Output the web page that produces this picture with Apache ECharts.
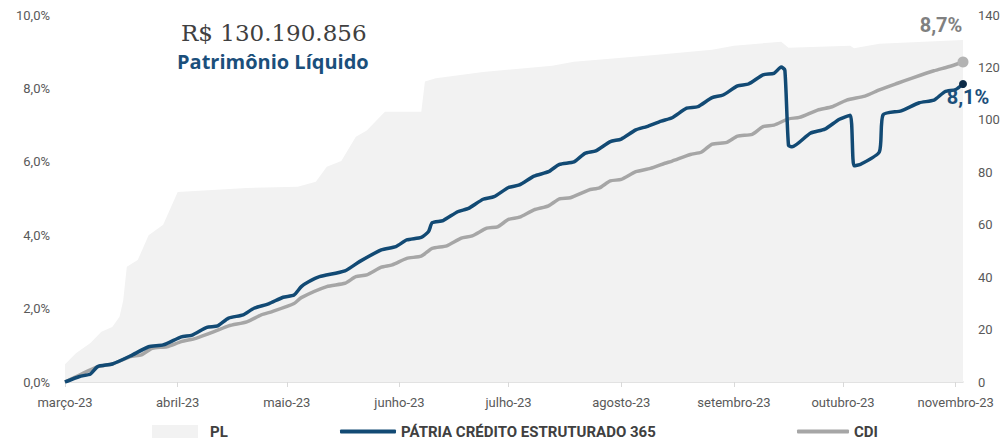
<!DOCTYPE html>
<html>
<head>
<meta charset="utf-8">
<script src="https://cdn.jsdelivr.net/npm/echarts@6/dist/echarts.min.js"></script>
<style>
  html, body { margin: 0; padding: 0; background: #fff; }
  #chart { width: 1003px; height: 441px; }
</style>
</head>
<body>
<div id="chart"></div>
<script>
// PL (R$ milhões, eixo direito)
const plDates = ['2023-03-01','2023-03-04','2023-03-08','2023-03-11','2023-03-14','2023-03-16','2023-03-17','2023-03-18','2023-03-21','2023-03-24','2023-03-28','2023-04-01','2023-04-20','2023-05-04','2023-05-09','2023-05-12','2023-05-16','2023-05-20','2023-05-23','2023-05-28','2023-06-07','2023-06-08','2023-06-11','2023-06-24','2023-07-13','2023-07-19','2023-08-11','2023-08-26','2023-09-01','2023-09-14','2023-09-16','2023-10-03','2023-10-04','2023-10-11','2023-11-03'];
const plValues = [6.8, 11, 14.9, 19.2, 21, 24.9, 31, 44, 46.5, 56, 60, 72.5, 74, 74.5, 76.4, 82.1, 84.3, 93.6, 95.9, 103.1, 103.1, 114.6, 115.9, 118.3, 120.6, 122.2, 124.8, 126.7, 128.3, 129.8, 127.5, 128.3, 127.3, 129, 130.5];

// PÁTRIA CRÉDITO ESTRUTURADO 365 (% acumulado)
const fundDates = ['2023-03-01','2023-03-05','2023-03-08','2023-03-10','2023-03-14','2023-03-19','2023-03-24','2023-03-28','2023-04-02','2023-04-05','2023-04-09','2023-04-12','2023-04-15','2023-04-19','2023-04-22','2023-04-26','2023-04-30','2023-05-03','2023-05-05','2023-05-07','2023-05-10','2023-05-17','2023-05-21','2023-05-27','2023-05-31','2023-06-03','2023-06-07','2023-06-09','2023-06-10','2023-06-13','2023-06-17','2023-06-20','2023-06-24','2023-06-27','2023-07-01','2023-07-04','2023-07-08','2023-07-12','2023-07-15','2023-07-19','2023-07-22','2023-07-25','2023-07-29','2023-08-01','2023-08-05','2023-08-08','2023-08-12','2023-08-15','2023-08-19','2023-08-22','2023-08-26','2023-08-29','2023-09-02','2023-09-05','2023-09-09','2023-09-12','2023-09-14','2023-09-15','2023-09-16','2023-09-17','2023-09-22','2023-09-26','2023-09-30','2023-10-03','2023-10-04','2023-10-06','2023-10-11','2023-10-12','2023-10-17','2023-10-22','2023-10-26','2023-10-29','2023-11-01','2023-11-03'];
const fundValues = [0, 0.15, 0.22, 0.42, 0.49, 0.71, 0.96, 1.01, 1.23, 1.28, 1.49, 1.53, 1.74, 1.83, 2.01, 2.13, 2.31, 2.37, 2.60, 2.73, 2.87, 3.03, 3.28, 3.60, 3.69, 3.87, 3.94, 4.10, 4.34, 4.40, 4.64, 4.73, 4.98, 5.05, 5.30, 5.37, 5.61, 5.73, 5.93, 6.00, 6.23, 6.30, 6.55, 6.62, 6.87, 6.96, 7.11, 7.20, 7.46, 7.50, 7.75, 7.82, 8.07, 8.12, 8.37, 8.41, 8.58, 8.50, 6.45, 6.41, 6.78, 6.89, 7.16, 7.27, 5.89, 5.94, 6.27, 7.28, 7.39, 7.61, 7.68, 7.91, 7.97, 8.12];

// CDI (% acumulado)
const cdiDates = ['2023-03-01','2023-03-05','2023-03-10','2023-03-14','2023-03-19','2023-03-22','2023-03-25','2023-03-29','2023-04-02','2023-04-06','2023-04-11','2023-04-15','2023-04-20','2023-04-24','2023-04-27','2023-05-03','2023-05-05','2023-05-12','2023-05-17','2023-05-20','2023-05-23','2023-05-27','2023-05-30','2023-06-03','2023-06-07','2023-06-10','2023-06-14','2023-06-18','2023-06-21','2023-06-25','2023-06-28','2023-07-01','2023-07-04','2023-07-08','2023-07-12','2023-07-15','2023-07-18','2023-07-23','2023-07-26','2023-07-29','2023-08-01','2023-08-05','2023-08-09','2023-08-13','2023-08-15','2023-08-20','2023-08-23','2023-08-26','2023-08-30','2023-09-02','2023-09-06','2023-09-09','2023-09-12','2023-09-16','2023-09-19','2023-09-24','2023-09-28','2023-10-02','2023-10-07','2023-10-11','2023-10-16','2023-10-20','2023-10-26','2023-10-30','2023-11-03'];
const cdiValues = [0, 0.19, 0.42, 0.49, 0.69, 0.74, 0.92, 0.96, 1.10, 1.19, 1.37, 1.53, 1.64, 1.83, 1.92, 2.14, 2.30, 2.60, 2.69, 2.87, 2.92, 3.13, 3.19, 3.37, 3.43, 3.64, 3.71, 3.92, 3.98, 4.19, 4.23, 4.43, 4.49, 4.69, 4.80, 4.99, 5.02, 5.23, 5.29, 5.48, 5.52, 5.73, 5.82, 5.96, 6.02, 6.20, 6.26, 6.48, 6.53, 6.70, 6.75, 6.96, 7.00, 7.17, 7.21, 7.41, 7.50, 7.68, 7.79, 7.96, 8.14, 8.28, 8.48, 8.59, 8.72];

const meses = ['janeiro','fevereiro','março','abril','maio','junho','julho','agosto','setembro','outubro','novembro','dezembro'];
const narrow = "'Liberation Sans Narrow', 'Roboto', 'Noto Sans', sans-serif";

function pct(v, d) {
    return v.toFixed(d).replace('.', ',') + '%';
}

// último ponto com marcador e rótulo
function buildLine(dates, values, dot, label) {
    return dates.map(function (d, i) {
        if (i < dates.length - 1) return [d, values[i]];
        return {
            value: [d, values[i]],
            symbol: 'circle',
            symbolSize: dot.size,
            itemStyle: { color: dot.color },
            label: label
        };
    });
}

const legendText = { fontWeight: 'bold', fontSize: 15, color: '#404040' };

const myChart = echarts.init(document.getElementById('chart'), null, { renderer: 'svg' });
myChart.setOption({
    animation: false,
    textStyle: { fontFamily: narrow },
    grid: { left: 65, right: 40, top: 15, bottom: 59 },
    graphic: [
        {
            type: 'text', left: 181, top: 21,
            style: { text: 'R$ 130.190.856', font: '23px "DejaVu Serif", serif', fill: '#404040' }
        },
        {
            type: 'text', left: 177, top: 51,
            style: { text: 'Patrimônio Líquido', font: 'bold 20px "Open Sans", sans-serif', fill: '#1b4f7b' }
        }
    ],
    legend: [
        {
            data: ['PL'], left: 152, top: 424, padding: 0, itemWidth: 46, itemHeight: 13, itemGap: 0, icon: 'rect',
            textStyle: Object.assign({ padding: [0, 0, 0, 7] }, legendText)
        },
        {
            data: ['PÁTRIA CRÉDITO ESTRUTURADO 365'], left: 340, top: 424, padding: 0, itemWidth: 56, itemHeight: 4, icon: 'roundRect',
            textStyle: legendText
        },
        {
            data: ['CDI'], left: 797, top: 424, padding: 0, itemWidth: 52, itemHeight: 4, icon: 'roundRect',
            textStyle: legendText
        }
    ],
    xAxis: {
        type: 'time',
        min: '2023-03-01',
        max: '2023-11-03',
        splitNumber: 8,
        axisLine: { lineStyle: { color: '#d9d9d9', width: 1.5 } },
        axisTick: { show: true, length: 5, lineStyle: { color: '#d9d9d9' } },
        splitLine: { show: false },
        axisLabel: {
            color: '#595959', fontSize: 13, margin: 14,
            formatter: function (v) {
                const d = new Date(v);
                return meses[d.getMonth()] + '-' + String(d.getFullYear()).slice(2);
            }
        }
    },
    yAxis: [
        {
            type: 'value', min: 0, max: 10, interval: 2,
            splitLine: { show: false },
            axisLine: { show: false },
            axisLabel: { color: '#595959', fontSize: 13, margin: 15, formatter: function (v) { return pct(v, 1); } }
        },
        {
            type: 'value', min: 0, max: 140, interval: 20,
            splitLine: { show: false },
            axisLine: { show: false },
            axisLabel: { color: '#595959', fontSize: 13, margin: 15 }
        }
    ],
    series: [
        {
            name: 'PL',
            type: 'line',
            yAxisIndex: 1,
            data: plDates.map(function (d, i) { return [d, plValues[i]]; }),
            showSymbol: false,
            lineStyle: { width: 0 },
            itemStyle: { color: '#f2f2f2' },
            areaStyle: { color: '#f2f2f2', opacity: 1 },
            z: 1
        },
        {
            name: 'CDI',
            type: 'line',
            data: buildLine(cdiDates, cdiValues, { size: 11, color: '#b3b3b3' }, {
                show: true, position: 'top', offset: [-22, -16],
                formatter: function () { return '8,7%'; },
                fontSize: 20, fontWeight: 'bold', color: '#808080', fontFamily: narrow
            }),
            symbol: 'none',
            smooth: 0.2,
            lineStyle: { width: 3.5, color: '#a6a6a6' },
            itemStyle: { color: '#a6a6a6' },
            z: 3
        },
        {
            name: 'PÁTRIA CRÉDITO ESTRUTURADO 365',
            type: 'line',
            data: buildLine(fundDates, fundValues, { size: 8, color: '#0d2b47' }, {
                show: true, position: 'bottom', offset: [5, -6],
                formatter: function () { return '8,1%'; },
                fontSize: 20, fontWeight: 'bold', color: '#1b4f7b', fontFamily: narrow
            }),
            symbol: 'none',
            smooth: 0.2,
            lineStyle: { width: 3.5, color: '#124a74' },
            itemStyle: { color: '#124a74' },
            z: 4
        }
    ]
});
</script>
</body>
</html>
